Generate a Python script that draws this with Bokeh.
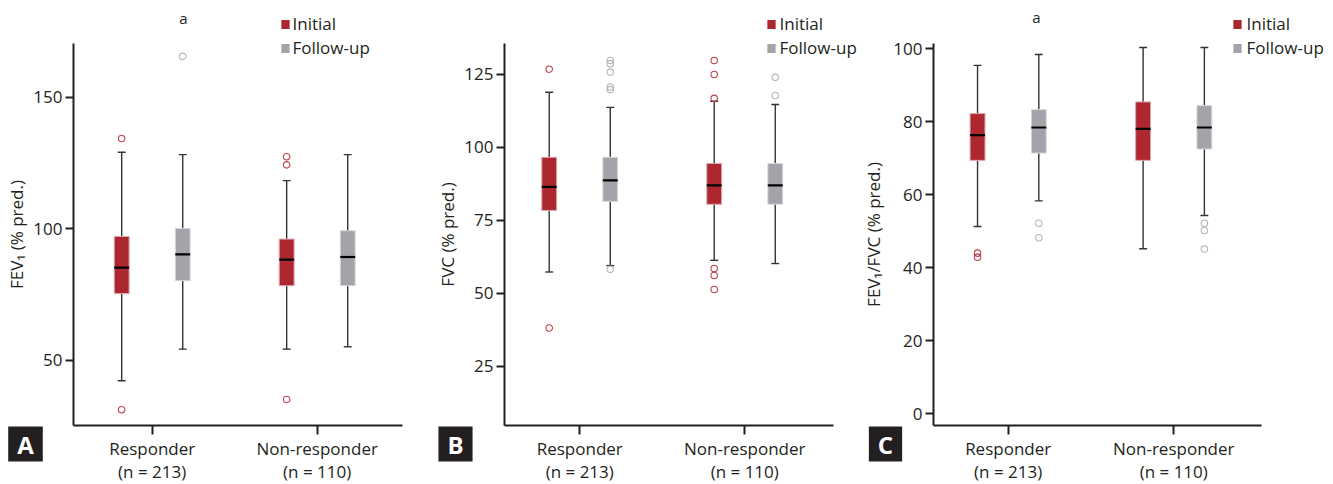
from bokeh.plotting import figure
from bokeh.models import Label, FixedTicker, Range1d
from bokeh.layouts import row
from bokeh.embed import file_html
from bokeh.resources import INLINE

# ---------------- data ----------------
group_labels = ["Responder\n(n = 213)", "Non-responder\n(n = 110)"]
series_names = ["Initial", "Follow-up"]
# box order: Responder-Initial, Responder-Follow-up, Non-responder-Initial, Non-responder-Follow-up
box_group = [1, 1, 2, 2]
box_series = [0, 1, 0, 1]

# Panel A: FEV1 (% pred.)
fev1_lower = [42.3, 54.3, 54.3, 55.2]
fev1_q1 = [75.4, 80.3, 78.4, 78.4]
fev1_median = [85.3, 90.3, 88.3, 89.3]
fev1_q3 = [97.1, 100.2, 96.1, 99.3]
fev1_upper = [129.1, 128.2, 118.3, 128.2]
fev1_outliers = [[134.3, 31.3], [165.5], [127.4, 124.3, 35.2], []]
fev1_ticks = [50, 100, 150]

# Panel B: FVC (% pred.)
fvc_lower = [57.3, 59.5, 61.3, 60.2]
fvc_q1 = [78.4, 81.5, 80.5, 80.5]
fvc_median = [86.5, 88.7, 87.0, 87.0]
fvc_q3 = [96.6, 96.6, 94.5, 94.5]
fvc_upper = [118.9, 113.7, 115.8, 114.7]
fvc_outliers = [[126.8, 38.1], [129.8, 128.7, 125.8, 120.7, 119.8, 58.2],
                [129.8, 125.0, 116.8, 58.5, 56.1, 51.3], [124.0, 117.8]]
fvc_ticks = [25, 50, 75, 100, 125]

# Panel C: FEV1/FVC (% pred.)
ratio_lower = [51.3, 58.3, 45.2, 54.3]
ratio_q1 = [69.4, 71.4, 69.4, 72.5]
ratio_median = [76.3, 78.4, 78.0, 78.4]
ratio_q3 = [82.2, 83.3, 85.4, 84.4]
ratio_upper = [95.4, 98.4, 100.3, 100.3]
ratio_outliers = [[44.0, 42.9], [52.2, 48.2], [], [52.2, 50.2, 45.1]]
ratio_ticks = [0, 20, 40, 60, 80, 100]

# ---------------- style ----------------
FONT = "Open Sans"
TXT = "#231f20"
FILL = ["#ad2730", "#a2a4a9"]
EDGE = ["#e0a6a9", "#d9dadc"]
OUTC = ["#c0414a", "#b5b6ba"]
OFF = 0.185
BW = 0.09
CAP = 0.024
H = 484
AT, AB = 43, 425  # axis top / axis bottom in px


def make_panel(letter, ylabel, yticks, xr, yr, width, fl, fr,
               lower, q1, med, q3, upper, outliers, legend_px, a_px, lab_standoff):
    # scale: axis spans px fl..fr horizontally and AT..AB vertically
    kx = (xr[1] - xr[0]) / (fr - fl)
    ky = (yr[1] - yr[0]) / (AB - AT)

    def dx(px):
        return xr[0] + (px - fl) * kx

    def dy(py):
        return yr[1] - (py - AT) * ky

    p = figure(width=width, height=H,
               x_range=Range1d(dx(0), dx(width)), y_range=Range1d(dy(H), dy(0)),
               output_backend="svg", toolbar_location=None,
               min_border=0)
    p.outline_line_color = None
    p.xgrid.grid_line_color = None
    p.ygrid.grid_line_color = None
    p.background_fill_color = "white"
    p.border_fill_color = "white"

    bx = [g + (-OFF if s == 0 else OFF) for g, s in zip(box_group, box_series)]
    wc = "#333333"
    p.segment(x0=bx, y0=lower, x1=bx, y1=upper, line_color=wc, line_width=1.4)
    p.segment(x0=[x - CAP for x in bx], y0=lower, x1=[x + CAP for x in bx], y1=lower,
              line_color=wc, line_width=1.4)
    p.segment(x0=[x - CAP for x in bx], y0=upper, x1=[x + CAP for x in bx], y1=upper,
              line_color=wc, line_width=1.4)
    for s in (0, 1):
        idx = [i for i in range(4) if box_series[i] == s]
        p.vbar(x=[bx[i] for i in idx], width=BW, bottom=[q1[i] for i in idx],
               top=[q3[i] for i in idx], fill_color=FILL[s], line_color=EDGE[s],
               line_width=1)
    p.segment(x0=[x - BW / 2 for x in bx], y0=med, x1=[x + BW / 2 for x in bx], y1=med,
              line_color="black", line_width=2.2)
    for s in (0, 1):
        ox, oy = [], []
        for i in range(4):
            if box_series[i] == s:
                ox += [bx[i]] * len(outliers[i])
                oy += outliers[i]
        p.scatter(x=ox, y=oy, marker="circle", size=6.5, fill_color=None,
                  line_color=OUTC[s], line_width=1.1)

    # axes, drawn at fixed data locations and bounded like the original
    xa, ya = p.xaxis[0], p.yaxis[0]
    xa.fixed_location = yr[0]
    ya.fixed_location = xr[0]
    xa.bounds = (xr[0], xr[1])
    ya.bounds = (yr[0], yr[1])
    xa.ticker = FixedTicker(ticks=[1, 2])
    xa.major_label_overrides = {1: group_labels[0], 2: group_labels[1]}
    ya.ticker = FixedTicker(ticks=yticks)
    ya.axis_label = ylabel
    for ax in (xa, ya):
        ax.axis_line_color = TXT
        ax.axis_line_width = 2
        ax.major_tick_line_color = TXT
        ax.major_tick_line_width = 2
        ax.major_tick_in = 0
        ax.minor_tick_line_color = None
        ax.major_label_text_font = FONT
        ax.major_label_text_font_size = "17px"
        ax.major_label_text_color = TXT
    xa.major_tick_out = 9
    xa.major_label_standoff = 2
    xa.major_label_text_line_height = 1.0
    ya.major_tick_out = 8
    ya.major_label_standoff = 3
    ya.axis_label_text_font = FONT
    ya.axis_label_text_font_size = "17px"
    ya.axis_label_text_font_style = "normal"
    ya.axis_label_text_color = TXT
    ya.axis_label_standoff = lab_standoff

    # legend
    sqx, tx = legend_px
    for s, py in zip((0, 1), (24, 48)):
        p.add_layout(Label(x=dx(sqx), y=dy(py), text=" ", text_font_size="1px",
                           text_align="center", text_baseline="middle",
                           background_fill_color=FILL[s], padding=4))
        p.add_layout(Label(x=dx(tx), y=dy(py - 1), text=series_names[s],
                           text_font=FONT, text_font_size="17px", text_color=TXT,
                           text_align="left", text_baseline="middle"))
    if a_px is not None:
        p.add_layout(Label(x=dx(a_px[0]), y=dy(a_px[1]), text="a",
                           text_font=FONT, text_font_size="15px", text_color=TXT,
                           text_align="center", text_baseline="middle"))
    p.add_layout(Label(x=dx(25), y=dy(443.5), text=letter, text_font=FONT,
                       text_font_size="24px", text_font_style="bold",
                       text_color="white", text_align="center", text_baseline="middle",
                       background_fill_color=TXT,
                       padding=dict(left=9, right=9, top=1, bottom=1)))
    return p


pa = make_panel("A", "FEV\u2081 (% pred.)", fev1_ticks, (0.523, 2.517), (25.3, 170.4),
                430, 73, 402, fev1_lower, fev1_q1, fev1_median, fev1_q3, fev1_upper,
                fev1_outliers, (285, 292), (183, 17), 2)
pb = make_panel("B", "FVC (% pred.)", fvc_ticks, (0.544, 2.538), (4.7, 135.6),
                430, 74, 403, fvc_lower, fvc_q1, fvc_median, fvc_q3, fvc_upper,
                fvc_outliers, (341, 349), None, 2)
pc = make_panel("C", "FEV\u2081/FVC (% pred.)", ratio_ticks, (0.549, 2.530), (-3.2, 101.4),
                473, 73, 401, ratio_lower, ratio_q1, ratio_median, ratio_q3, ratio_upper,
                ratio_outliers, (377, 386), (176, 16), 5)

layout = row(pa, pb, pc)
open("out.html", "w").write(file_html(layout, INLINE))
